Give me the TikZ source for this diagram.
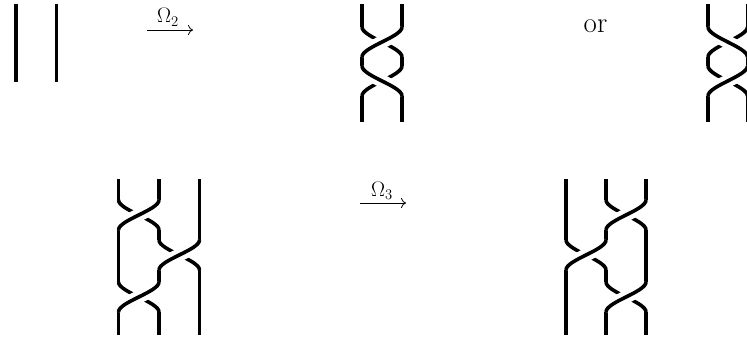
\RequirePackage{fix-cm}
\documentclass[tikz,border=0pt]{standalone}
\usetikzlibrary{arrows.meta}
\newcommand\brx[5]{\draw[#5] (#1,#3) .. controls (#1,#3+10) and (#2,#4-10) .. (#2,#4);}
\begin{document}
\begin{tikzpicture}[x=1pt,y=-1pt,
  strand/.style={line width=3.6pt},
  overstrand/.style={strand, preaction={draw, white, line width=13pt}},
  maparrow/.style={line width=0.8pt, -{Computer Modern Rightarrow[length=5pt, width=10pt]}},
  lbl/.style={font=\fontsize{21}{24}\selectfont, anchor=base, inner sep=0pt},
  ortext/.style={font=\fontsize{29}{32}\selectfont, anchor=base, inner sep=0pt}]
\useasboundingbox (0,0) rectangle (747,340);

% top left: two straight strands
\draw[strand] (16,4) -- (16,82) (56.5,4) -- (56.5,82);

% Omega_2 arrow
\coordinate (a2s) at (147,30);
\coordinate (a2e) at (193,30);
\draw[maparrow] (a2s) -- (a2e);
\node[lbl] (l2) at (168,23) {$\Omega_2$};

% middle top braid
\draw[strand] (362,4)--(362,27) (402,4)--(402,27)
  (362,57)--(362,66) (402,57)--(402,66)
  (362,96)--(362,122) (402,96)--(402,122);
\brx{362}{402}{27}{57}{strand}
\brx{402}{362}{66}{96}{strand}
\brx{402}{362}{27}{57}{overstrand}
\brx{362}{402}{66}{96}{overstrand}

% or
\node[ortext] (or) at (595.5,32) {or};

% right top braid
\draw[strand] (708,4)--(708,27) (747.5,4)--(747.5,27)
  (708,57)--(708,66) (747.5,57)--(747.5,66)
  (708,96)--(708,122) (747.5,96)--(747.5,122);
\brx{747.5}{708}{27}{57}{strand}
\brx{708}{747.5}{66}{96}{strand}
\brx{708}{747.5}{27}{57}{overstrand}
\brx{747.5}{708}{66}{96}{overstrand}

% bottom left braid
\draw[strand] (118.5,179)--(118.5,200) (159,179)--(159,200) (199.5,179)--(199.5,240)
  (118.5,230)--(118.5,282) (159,230)--(159,240)
  (199.5,270)--(199.5,335) (159,270)--(159,282)
  (118.5,312)--(118.5,335) (159,312)--(159,335);
\brx{118.5}{159}{200}{230}{strand}
\brx{159}{199.5}{240}{270}{strand}
\brx{118.5}{159}{282}{312}{strand}
\brx{159}{118.5}{200}{230}{overstrand}
\brx{199.5}{159}{240}{270}{overstrand}
\brx{159}{118.5}{282}{312}{overstrand}

% Omega_3 arrow
\coordinate (a3s) at (360,203);
\coordinate (a3e) at (406,203);
\draw[maparrow] (a3s) -- (a3e);
\node[lbl] (l3) at (382,196) {$\Omega_3$};

% bottom right braid
\draw[strand] (566,179)--(566,240) (606,179)--(606,200) (646,179)--(646,200)
  (606,230)--(606,240) (646,230)--(646,282)
  (566,270)--(566,335) (606,270)--(606,282)
  (606,312)--(606,335) (646,312)--(646,335);
\brx{606}{646}{200}{230}{strand}
\brx{566}{606}{240}{270}{strand}
\brx{606}{646}{282}{312}{strand}
\brx{646}{606}{200}{230}{overstrand}
\brx{606}{566}{240}{270}{overstrand}
\brx{646}{606}{282}{312}{overstrand}
\end{tikzpicture}
\end{document}
